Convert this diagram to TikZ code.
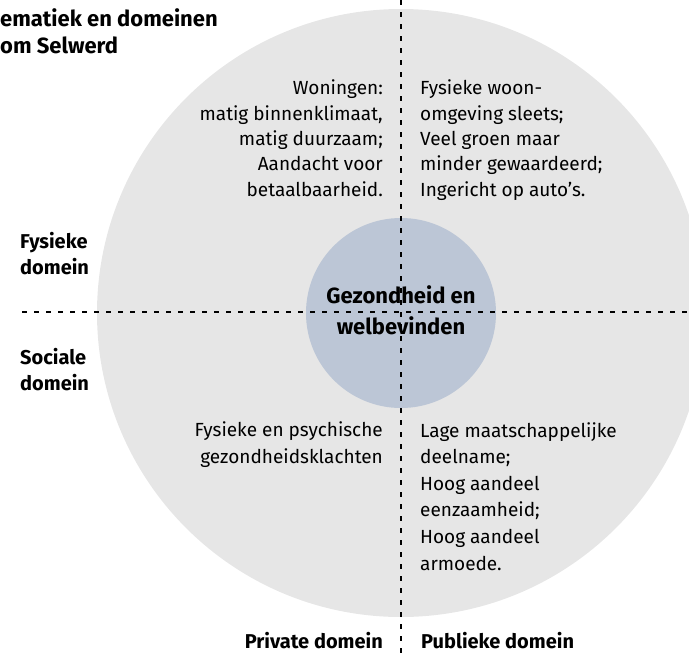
\documentclass[tikz,border=0pt]{standalone}
\usepackage{fontspec}
\setmainfont{Fira Sans}
\usetikzlibrary{positioning}
\definecolor{ring}{HTML}{E6E6E6}
\definecolor{core}{HTML}{BCC6D6}

\begin{document}
\begin{tikzpicture}[x=1pt, y=-1pt,
quadtext/.style={font=\fontsize{19}{25.3}\selectfont, inner sep=0pt},
domlabel/.style={font=\bfseries\fontsize{20}{26}\selectfont, inner sep=0pt, align=left},
divider/.style={line width=1.6pt, dash pattern=on 5pt off 7pt}
]
\useasboundingbox (0,0) rectangle (689,654);
\clip (0,0) rectangle (689,654);
\fill[ring] (401,313) circle[radius=304];
\node[circle, fill=core, minimum size=190pt, inner sep=0pt] (core) at (401,313) {};
% dividing lines
\coordinate (vtop) at (401,0);
\coordinate (vbot) at (401,654);
\coordinate (hleft) at (22,312);
\coordinate (hright) at (689,312);
\draw[divider] (vtop) -- (vbot);
\draw[divider] (hleft) -- (hright);
% centre
\node[font=\bfseries\fontsize{22}{31}\selectfont, align=center, inner sep=0pt, anchor=base] (health) at (401,334) {Gezondheid en\\welbevinden};
% quadrants
\node[quadtext, align=right, anchor=base east] (housing) at (383,196) {Woningen:\\matig binnenklimaat,\\matig duurzaam;\\Aandacht voor\\betaalbaarheid.};
\node[quadtext, align=left, anchor=base west] (surround) at (420,196) {Fysieke woon-\\omgeving sleets;\\Veel groen maar\\minder gewaardeerd;\\Ingericht op auto’s.};
\node[quadtext, align=right, anchor=base east, font=\fontsize{19}{26.6}\selectfont] (complaints) at (383,463) {Fysieke en psychische\\gezondheidsklachten};
\node[quadtext, align=left, anchor=base west, font=\fontsize{19}{26.6}\selectfont] (participation) at (420,570) {Lage maatschappelijke\\deelname;\\Hoog aandeel\\eenzaamheid;\\Hoog aandeel\\armoede.};
% domain labels
\node[domlabel, anchor=base west] (physical) at (20,274) {Fysieke\\domein};
\node[domlabel, anchor=base west] (social) at (20,390) {Sociale\\domein};
\node[domlabel, anchor=base east] (private) at (383,648) {Private domein};
\node[domlabel, anchor=base west] (public) at (421,648) {Publieke domein};
% title
\node[domlabel, anchor=base west, font=\bfseries\fontsize{22}{27}\selectfont] (title) at (0,53) {ematiek en domeinen\\om Selwerd};
\end{tikzpicture}
\end{document}
